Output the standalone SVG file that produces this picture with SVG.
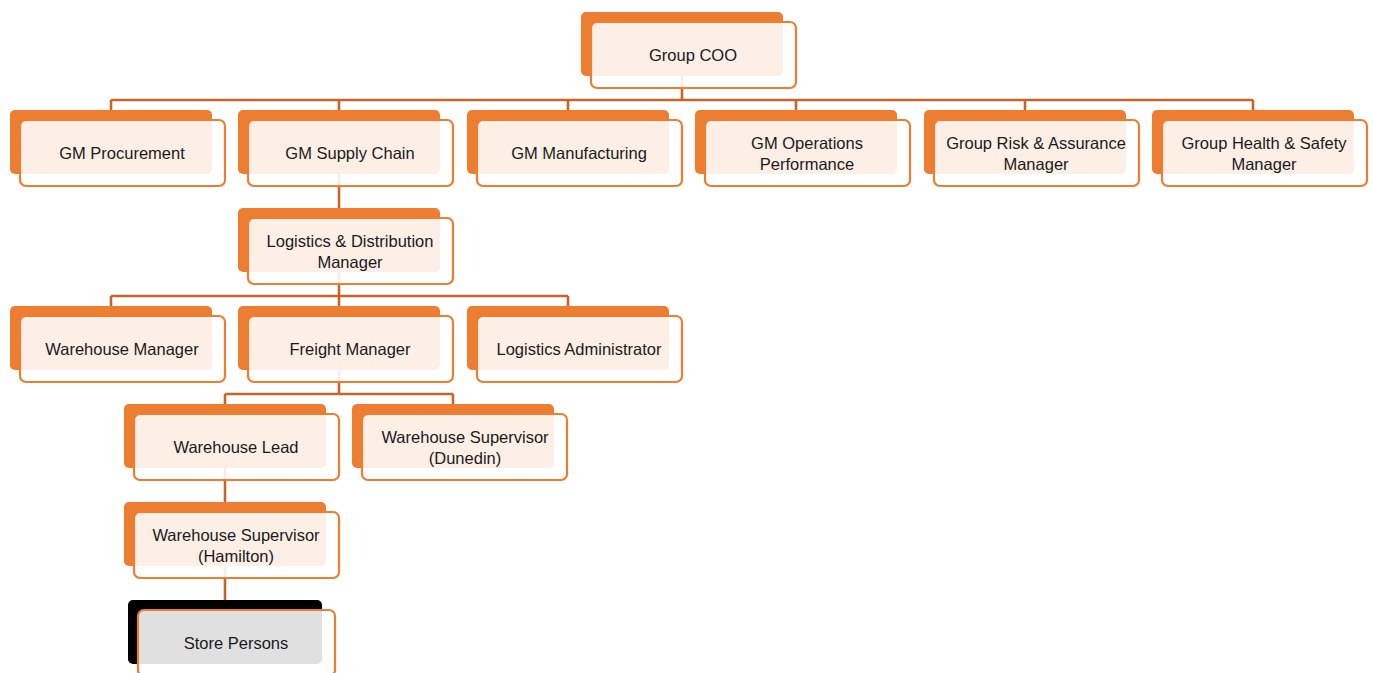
<svg xmlns="http://www.w3.org/2000/svg" width="1373" height="673" viewBox="0 0 1373 673">
<style>
.bk{fill:#ED7D31}
.bb{fill:#000000}
.fr{fill:#FFFFFF;fill-opacity:0.88;stroke:#ED7D31;stroke-width:2.2}
.t{font-family:"Liberation Sans",Arial,sans-serif;font-size:16.5px;fill:#1a1a1a;text-anchor:middle}
.c{fill:none;stroke:#C8642A;stroke-width:2.6}
</style>
<rect width="1373" height="673" fill="#FFFFFF"/>
<g id="connectors">
<path class="c" d="M682 76V100M111 100H1253M111 100V110M339 100V110M568 100V110M796 100V110M1025 100V110M1253 100V110"/>
<path class="c" d="M339 174V208"/>
<path class="c" d="M339 272V296M111 296H568M111 296V306M339 296V306M568 296V306"/>
<path class="c" d="M339 370V394M225 394H453M225 394V404M453 394V404"/>
<path class="c" d="M225 468V502"/>
<path class="c" d="M225 566V600"/>
</g>
<g id="group-coo"><rect class="bk" x="581" y="12" width="202" height="64" rx="5"/><rect class="fr" x="591" y="22" width="205" height="66" rx="6"/><text class="t" x="693" y="61">Group COO</text></g>
<g id="gm-procurement"><rect class="bk" x="10" y="110" width="202" height="64" rx="5"/><rect class="fr" x="20" y="120" width="205" height="66" rx="6"/><text class="t" x="122" y="159">GM Procurement</text></g>
<g id="gm-supply-chain"><rect class="bk" x="238" y="110" width="202" height="64" rx="5"/><rect class="fr" x="248" y="120" width="205" height="66" rx="6"/><text class="t" x="350" y="159">GM Supply Chain</text></g>
<g id="gm-manufacturing"><rect class="bk" x="467" y="110" width="202" height="64" rx="5"/><rect class="fr" x="477" y="120" width="205" height="66" rx="6"/><text class="t" x="579" y="159">GM Manufacturing</text></g>
<g id="gm-operations-performance"><rect class="bk" x="695" y="110" width="202" height="64" rx="5"/><rect class="fr" x="705" y="120" width="205" height="66" rx="6"/><text class="t" x="807" y="149">GM Operations</text><text class="t" x="807" y="170">Performance</text></g>
<g id="group-risk-assurance"><rect class="bk" x="924" y="110" width="202" height="64" rx="5"/><rect class="fr" x="934" y="120" width="205" height="66" rx="6"/><text class="t" x="1036" y="149">Group Risk &amp; Assurance</text><text class="t" x="1036" y="170">Manager</text></g>
<g id="group-health-safety"><rect class="bk" x="1152" y="110" width="202" height="64" rx="5"/><rect class="fr" x="1162" y="120" width="205" height="66" rx="6"/><text class="t" x="1264" y="149">Group Health &amp; Safety</text><text class="t" x="1264" y="170">Manager</text></g>
<g id="logistics-distribution-manager"><rect class="bk" x="238" y="208" width="202" height="64" rx="5"/><rect class="fr" x="248" y="218" width="205" height="66" rx="6"/><text class="t" x="350" y="247">Logistics &amp; Distribution</text><text class="t" x="350" y="268">Manager</text></g>
<g id="warehouse-manager"><rect class="bk" x="10" y="306" width="202" height="64" rx="5"/><rect class="fr" x="20" y="316" width="205" height="66" rx="6"/><text class="t" x="122" y="355">Warehouse Manager</text></g>
<g id="freight-manager"><rect class="bk" x="238" y="306" width="202" height="64" rx="5"/><rect class="fr" x="248" y="316" width="205" height="66" rx="6"/><text class="t" x="350" y="355">Freight Manager</text></g>
<g id="logistics-administrator"><rect class="bk" x="467" y="306" width="202" height="64" rx="5"/><rect class="fr" x="477" y="316" width="205" height="66" rx="6"/><text class="t" x="579" y="355">Logistics Administrator</text></g>
<g id="warehouse-lead"><rect class="bk" x="124" y="404" width="202" height="64" rx="5"/><rect class="fr" x="134" y="414" width="205" height="66" rx="6"/><text class="t" x="236" y="453">Warehouse Lead</text></g>
<g id="warehouse-supervisor-dunedin"><rect class="bk" x="352" y="404" width="202" height="64" rx="5"/><rect class="fr" x="362" y="414" width="205" height="66" rx="6"/><text class="t" x="465" y="443">Warehouse Supervisor</text><text class="t" x="465" y="464">(Dunedin)</text></g>
<g id="warehouse-supervisor-hamilton"><rect class="bk" x="124" y="502" width="202" height="64" rx="5"/><rect class="fr" x="134" y="512" width="205" height="66" rx="6"/><text class="t" x="236" y="541">Warehouse Supervisor</text><text class="t" x="236" y="562">(Hamilton)</text></g>
<g id="store-persons"><rect class="bb" x="128" y="600" width="194" height="64" rx="5"/><rect class="fr" x="138" y="610" width="197" height="66" rx="6"/><text class="t" x="236" y="649">Store Persons</text></g>
</svg>
